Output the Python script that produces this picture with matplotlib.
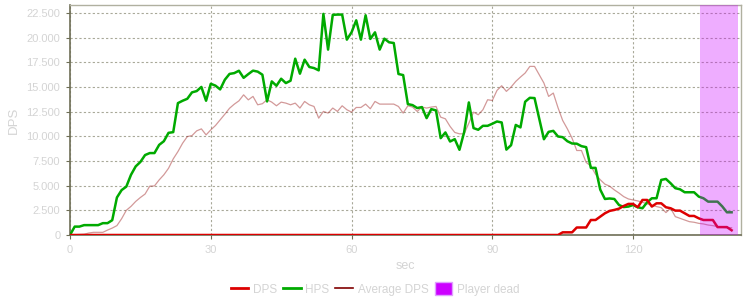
import numpy as np
import matplotlib
matplotlib.use('Agg')
import matplotlib.pyplot as plt
from matplotlib.ticker import FuncFormatter, MultipleLocator
from matplotlib.patches import Patch
from matplotlib.lines import Line2D

# 초 단위 시간 (0..141)
sec = np.arange(142)

# HPS (녹색)
hps = [0, 850, 850, 1000, 1000, 1000, 1000, 1200, 1200, 1500,
       3800, 4550, 4900, 6100, 6950, 7400, 8100, 8300, 8300, 9130,
       9500, 10350, 10420, 13360, 13600, 13800, 14450, 14580, 15000, 13600,
       15320, 15130, 14750, 15730, 16320, 16400, 16640, 15920, 16300, 16650,
       16550, 16240, 13530, 15560, 15120, 15830, 15390, 15630, 17860, 16340,
       17760, 17020, 16910, 16680, 22400, 18780, 22300, 22330, 22330, 19790,
       20530, 21750, 19790, 22260, 19860, 20530, 18780, 19890, 19520, 19450,
       16310, 16200, 13260, 13160, 12860, 12960, 11840, 12750, 12620, 9810,
       10390, 9470, 9710, 8630, 10420, 13430, 10830, 10660, 11060, 11060,
       11270, 11500, 11400, 8650, 9100, 11150, 10900, 13500, 13900, 13870,
       11800, 9700, 10450, 10550, 9980, 9910, 9500, 9270, 9250, 9000,
       8900, 6800, 6800, 4600, 3650, 3700, 3650, 3040, 2830, 2880,
       3040, 2810, 2710, 3320, 3720, 3720, 5580, 5680, 5240, 4740,
       4630, 4330, 4330, 4330, 3890, 3720, 3380, 3380, 3380, 2900,
       2300, 2300]

# DPS (빨강) - 105초 전까지 0
dps = [0] * 105 + [270, 270, 270, 760, 760, 760, 1520, 1520, 1860, 2200,
                   2440, 2540, 2670, 2940, 3150, 3150, 2810, 3550, 3550, 2880,
                   3210, 3210, 2810, 2710, 2470, 2470, 2200, 1930, 1930, 1690,
                   1520, 1520, 1520, 800, 800, 800, 480]

# Average DPS
avg_dps = [0, 30, 60, 80, 200, 270, 270, 270, 500, 700,
           950, 1650, 2500, 2900, 3400, 3800, 4150, 4950, 4970, 5580,
           6100, 6760, 7710, 8450, 9300, 9970, 10070, 10550, 10750, 10140,
           10650, 11090, 11660, 12240, 12840, 13250, 13590, 14200, 13690, 14040,
           13190, 13300, 13700, 13460, 13090, 13460, 13360, 13190, 13360, 12860,
           13530, 13190, 13020, 11840, 12520, 12350, 12860, 12520, 13090, 12690,
           12450, 12920, 12920, 13260, 12790, 13530, 13260, 13260, 13260, 13260,
           13020, 12350, 13090, 12960, 12520, 12960, 12860, 12960, 13020, 11940,
           11770, 11000, 10390, 10250, 10250, 11330, 12450, 12180, 12690, 13700,
           13630, 14650, 15120, 14550, 14990, 15560, 16000, 16410, 17080, 17080,
           16240, 15390, 14040, 14380, 12900, 11600, 10750, 9800, 8560, 8560,
           7350, 7000, 6150, 5600, 5150, 4950, 4570, 4250, 3890, 3650,
           3550, 3450, 3320, 3150, 3040, 2880, 2770, 2270, 2710, 1860,
           1690, 1520, 1350, 1290, 1180, 1120, 1010, 950, 850, 780,
           740, 740]

# 사망 구간
dead_start, dead_end = 134.2, 142.3

plt.rcParams['font.family'] = ['Liberation Sans', 'DejaVu Sans']
txt_color = '#d4d4d4'
grid_color = '#a8a898'

fig = plt.figure(figsize=(7.5, 3), dpi=100)
ax = fig.add_axes([70 / 750, 1 - 235 / 300, (741 - 70) / 750, (235 - 5) / 300])

ax.plot(sec, avg_dps, color='#900000', lw=0.9, alpha=0.4, zorder=3)
ax.plot(sec, hps, color='#00aa00', lw=1.8, zorder=4)
ax.plot(sec, dps, color='#dd0000', lw=1.8, zorder=5)
ax.axvspan(dead_start, dead_end, color='#cc00ff', alpha=0.32, lw=0, zorder=6)

ax.set_xlim(0, 143)
ax.set_ylim(0, 23300)
ax.xaxis.set_major_locator(MultipleLocator(30))
ax.yaxis.set_major_locator(MultipleLocator(2500))
ax.yaxis.set_major_formatter(FuncFormatter(lambda v, p: f'{int(v):,}'.replace(',', '.')))

ax.grid(True, color=grid_color, linestyle=(0, (2, 2)), lw=0.8)
ax.set_axisbelow(True)

for side in ['left', 'bottom']:
    ax.spines[side].set_color('#6e6e56')
    ax.spines[side].set_linewidth(1.2)
for side in ['top', 'right']:
    ax.spines[side].set_color('#b0b0a0')
    ax.spines[side].set_linewidth(1.0)

ax.tick_params(colors=txt_color, labelsize=8, length=3, width=0.8, pad=4)
ax.tick_params(axis='both', color='#6e6e56')
ax.set_xlabel('sec', color=txt_color, fontsize=9, labelpad=4)
ax.set_ylabel('DPS', color=txt_color, fontsize=9.5, labelpad=5)

handles = [Line2D([], [], color='#dd0000', lw=2),
           Line2D([], [], color='#00aa00', lw=2),
           Line2D([], [], color='#800000', lw=1.2),
           Patch(facecolor='#cc00ff', edgecolor='#e0a0ff')]
labels = ['DPS', 'HPS', 'Average DPS', 'Player dead']
fig.legend(handles, labels, loc='center', bbox_to_anchor=(0.5, 1 - 289 / 300),
           ncol=4, frameon=False, fontsize=8.5, labelcolor=txt_color,
           handlelength=1.5, handleheight=1.2, handletextpad=0.4, columnspacing=0.5)

fig.savefig('out.png', dpi=100)
